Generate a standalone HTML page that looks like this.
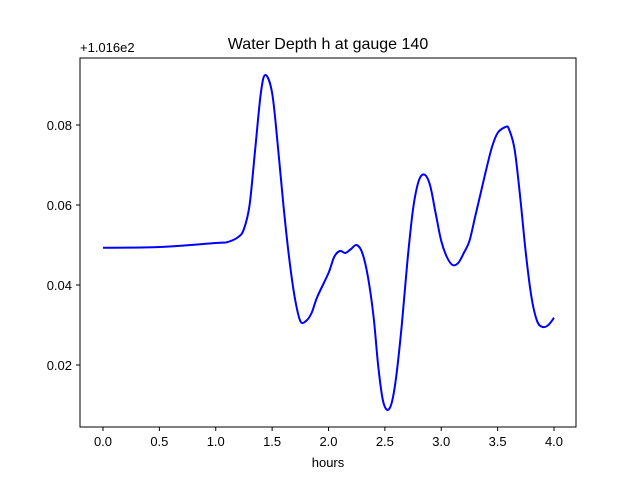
<!DOCTYPE html>
<html><head><meta charset="utf-8"><style>
body{margin:0;background:#fff}
svg text{font-family:"Liberation Sans","DejaVu Sans",sans-serif;fill:#000}
</style></head><body>
<svg id="chart" width="640" height="480" viewBox="0 0 640 480">
<rect width="640" height="480" fill="#fff"/>
<text x="328" y="49" font-size="16" text-anchor="middle">Water Depth h at gauge 140</text>
<text x="80" y="52" font-size="13">+1.016e2</text>
<g id="ticks"></g>
<path id="line" fill="none" stroke="#0000ff" stroke-width="2"/>
<rect x="80" y="58" width="496" height="369" fill="none" stroke="#000" stroke-width="1"/>
<text x="328" y="467" font-size="13" text-anchor="middle">hours</text>
</svg>
<script>
const hours=[0,0.5,1.0,1.1,1.2,1.25,1.3,1.35,1.4,1.44,1.5,1.55,1.6,1.65,1.7,1.75,1.8,1.85,1.9,2.0,2.05,2.1,2.15,2.2,2.25,2.3,2.35,2.4,2.44,2.48,2.52,2.56,2.6,2.65,2.7,2.75,2.8,2.85,2.9,2.95,3.0,3.05,3.1,3.15,3.2,3.25,3.3,3.35,3.4,3.45,3.5,3.57,3.6,3.65,3.7,3.75,3.8,3.85,3.9,3.95,4.0];
const depth=[0.0493,0.0495,0.0505,0.0507,0.052,0.054,0.06,0.074,0.088,0.0925,0.088,0.075,0.06,0.047,0.037,0.031,0.031,0.033,0.037,0.043,0.047,0.0485,0.048,0.049,0.050,0.048,0.042,0.032,0.020,0.0115,0.0088,0.0105,0.017,0.030,0.046,0.059,0.066,0.0676,0.065,0.058,0.051,0.047,0.045,0.0455,0.048,0.051,0.057,0.063,0.069,0.0745,0.078,0.0795,0.079,0.074,0.062,0.048,0.037,0.031,0.0295,0.030,0.0318];
const xTicks=[0,0.5,1.0,1.5,2.0,2.5,3.0,3.5,4.0];
const yTicks=[0.02,0.04,0.06,0.08];
const X=h=>103+h*112.75;
const Y=v=>125-(v-0.08)*4000;
const NS="http://www.w3.org/2000/svg";
const g=document.getElementById('ticks');
function mk(t,a){const e=document.createElementNS(NS,t);for(const k in a)e.setAttribute(k,a[k]);return e;}
xTicks.forEach(t=>{
 const l=mk('line',{x1:X(t),x2:X(t),y1:427,y2:431,stroke:'#000'});
 
 
 g.appendChild(l);
 const s=mk('text',{x:X(t),y:446,'font-size':13,'text-anchor':'middle'});
 
 
 s.textContent=t.toFixed(1);g.appendChild(s);
});
yTicks.forEach(t=>{
 const l=mk('line',{x1:76,x2:80,y1:Y(t),y2:Y(t),stroke:'#000'});
 
 
 g.appendChild(l);
 const s=mk('text',{x:72,y:Y(t)+5,'font-size':13,'text-anchor':'end'});
 
 
 s.textContent=t.toFixed(2);g.appendChild(s);
});
const P=hours.map((h,i)=>[X(h),Y(depth[i])]);
let d='M'+P[0][0]+','+P[0][1];
for(let i=0;i<P.length-1;i++){
 const p0=P[Math.max(0,i-1)],p1=P[i],p2=P[i+1],p3=P[Math.min(P.length-1,i+2)];
 const c1=[p1[0]+(p2[0]-p0[0])/6,p1[1]+(p2[1]-p0[1])/6];
 const c2=[p2[0]-(p3[0]-p1[0])/6,p2[1]-(p3[1]-p1[1])/6];
 d+=' C'+c1+' '+c2+' '+p2;
}
document.getElementById('line').setAttribute('d',d);
</script>
</body></html>
